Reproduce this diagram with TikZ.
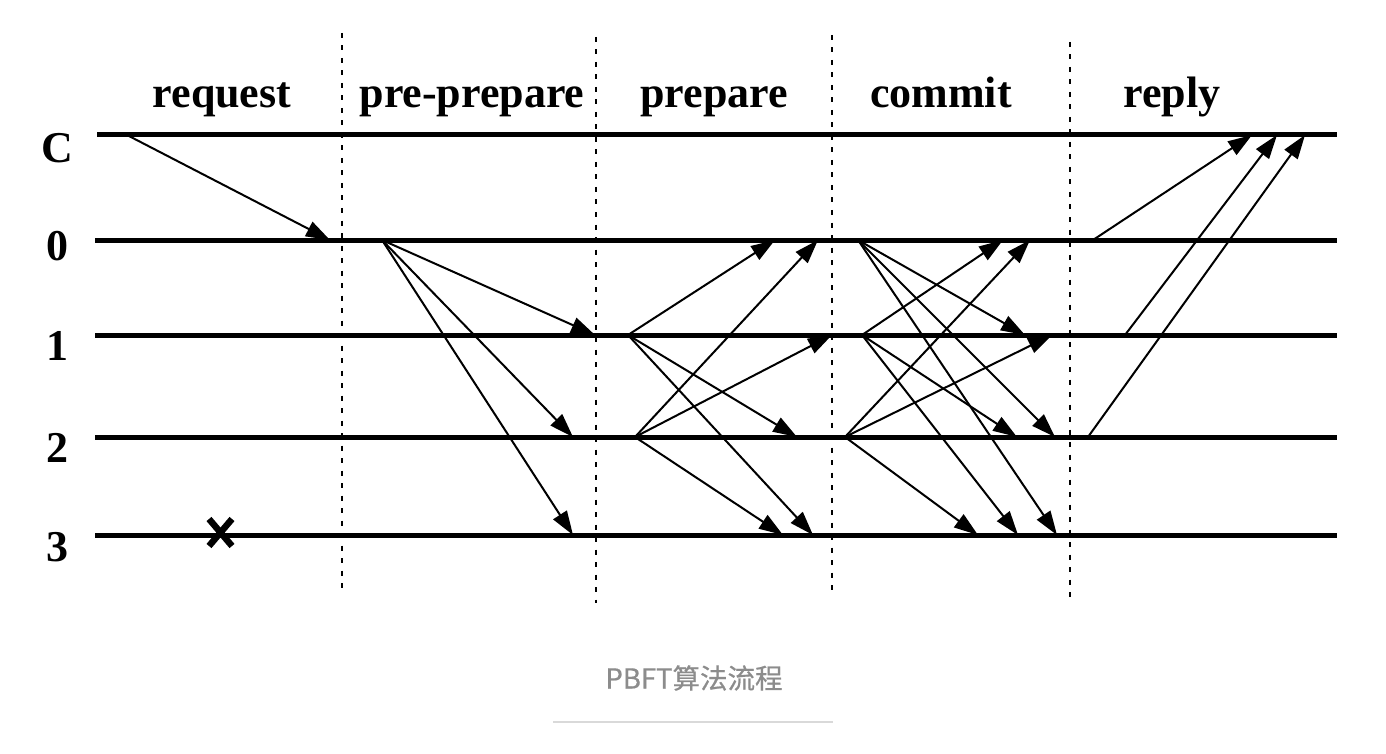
\documentclass[tikz,border=0pt]{standalone}
\usepackage{fontspec}
\setmainfont{Liberation Serif}
\newfontfamily\cjk[FakeBold=0.6]{Noto Sans CJK SC}
\usetikzlibrary{arrows.meta}
\definecolor{captiongray}{HTML}{8C8C8C}
\definecolor{rulegray}{HTML}{D9D9D9}
\begin{document}
\begin{tikzpicture}[x=1pt,y=-1pt,
  lifeline/.style={line width=5pt},
  phasesep/.style={line width=2.6pt,dash pattern=on 5pt off 7.5pt},
  msg/.style={line width=2pt,-{Triangle[length=24pt,width=16pt]}},
  phaselabel/.style={anchor=base,inner sep=0pt,font=\fontsize{44}{48}\selectfont\bfseries},
  rowlabel/.style={anchor=base,inner sep=0pt,font=\fontsize{44}{48}\selectfont\bfseries},
  crossmark/.style={line width=6.5pt}]
\useasboundingbox (0,0) rectangle (1386,754);
\fill[white] (0,0) rectangle (1386,754);

% phase labels
\node[phaselabel] (lreq) at (222,108) {request};
\node[phaselabel] (lpp) at (472,108) {pre-prepare};
\node[phaselabel] (lprep) at (714,108) {prepare};
\node[phaselabel] (lcom) at (941,108) {commit};
\node[phaselabel] (lrep) at (1172,108) {reply};

% row labels
\node[rowlabel] (rC) at (57,163) {C};
\node[rowlabel] (r0) at (57,260) {0};
\node[rowlabel] (r1) at (57,360) {1};
\node[rowlabel] (r2) at (57,462) {2};
\node[rowlabel] (r3) at (57,561) {3};

% lifelines
\coordinate (LCa) at (97,135);  \coordinate (LCb) at (1337,135);
\coordinate (L0a) at (95,240);  \coordinate (L0b) at (1337,240);
\coordinate (L1a) at (95,335);  \coordinate (L1b) at (1337,335);
\coordinate (L2a) at (95,437);  \coordinate (L2b) at (1337,437);
\coordinate (L3a) at (95,535);  \coordinate (L3b) at (1337,535);
\foreach \r in {C,0,1,2,3} \draw[lifeline] (L\r a) -- (L\r b);

% phase separators
\coordinate (D1a) at (342,33);   \coordinate (D1b) at (342,592);
\coordinate (D2a) at (596,37);   \coordinate (D2b) at (596,603);
\coordinate (D3a) at (832,35);   \coordinate (D3b) at (832,597);
\coordinate (D4a) at (1070,42);  \coordinate (D4b) at (1070,602);
\foreach \d in {1,2,3,4} \draw[phasesep] (D\d a) -- (D\d b);

% message end points
\foreach \n/\x/\y in {
  reqS/127/135, reqT/330/240,
  ppS/382/240, ppT1/595/335, ppT2/573/437, ppT3/573/535,
  prS1/628/335, prS2/635/437,
  pr10/775/240, pr12/797/437, pr13/813/535,
  pr20/818/240, pr21/832/335, pr23/783/535,
  cmS0/858/240, cmS1/862/335, cmS2/845/437,
  cm01/1025/335, cm02/1055/437, cm03/1057/535,
  cm10/1003/240, cm12/1017/437, cm13/1018/535,
  cm20/1030/240, cm21/1052/335, cm23/978/535,
  rpS0/1093/240, rpS1/1125/335, rpS2/1088/437,
  rpT0/1252/135, rpT1/1277/135, rpT2/1305/135}
  \coordinate (\n) at (\x,\y);

% messages
\foreach \a/\b in {reqS/reqT,
  ppS/ppT1, ppS/ppT2, ppS/ppT3,
  prS1/pr10, prS1/pr12, prS1/pr13,
  prS2/pr20, prS2/pr21, prS2/pr23,
  cmS0/cm01, cmS0/cm02, cmS0/cm03,
  cmS1/cm10, cmS1/cm12, cmS1/cm13,
  cmS2/cm20, cmS2/cm21, cmS2/cm23,
  rpS0/rpT0, rpS1/rpT1, rpS2/rpT2}
  \draw[msg] (\a) -- (\b);

% crash mark on replica 3
\coordinate (X1) at (209,519); \coordinate (X2) at (232,546);
\coordinate (X3) at (232,519); \coordinate (X4) at (209,546);
\draw[crossmark] (X1) -- (X2);
\draw[crossmark] (X3) -- (X4);

% caption
\node[inner sep=0pt,text=captiongray,font=\cjk\fontsize{27.5}{30}\selectfont] (cap) at (694,678) {PBFT算法流程};
\coordinate (Ra) at (553,722); \coordinate (Rb) at (833,722);
\draw[rulegray,line width=2pt] (Ra) -- (Rb);
\end{tikzpicture}
\end{document}
